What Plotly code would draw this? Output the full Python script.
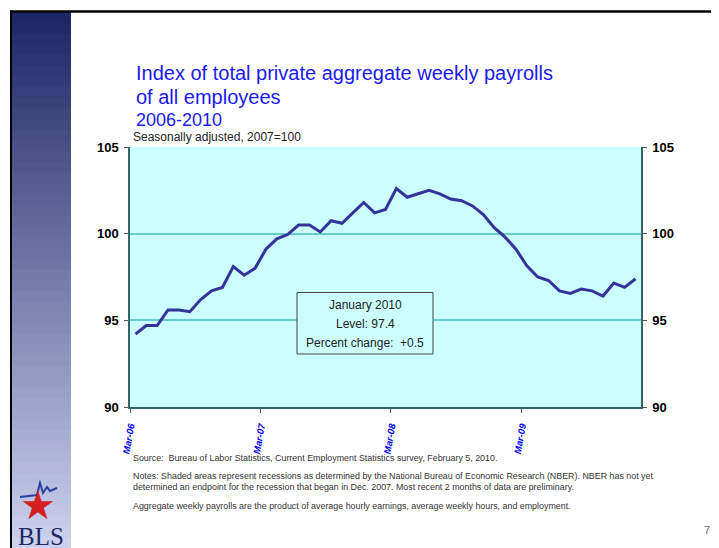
import pandas as pd
import plotly.graph_objects as go

# monthly index, 2007=100, seasonally adjusted (Mar 2006 - Jan 2010)
months = [d.strftime("%b-%y") for d in pd.date_range("2006-03-01", periods=47, freq="MS")]
payroll_index = [
    94.2, 94.7, 94.7, 95.6, 95.6, 95.5, 96.2, 96.7, 96.9, 98.1,
    97.6, 98.0, 99.1, 99.7, 99.95, 100.5, 100.5, 100.1, 100.75, 100.6, 101.2, 101.8,
    101.2, 101.4, 102.6, 102.1, 102.3, 102.5, 102.3, 102.0, 101.9, 101.6, 101.1, 100.35,
    99.8, 99.1, 98.15, 97.5, 97.3, 96.7, 96.55, 96.8, 96.7, 96.4, 97.15, 96.9,
    97.4,
]
y_ticks = [90, 95, 100, 105]

# page size and plot box in page pixels; the page body adds an 8px offset
W, H = 719, 548
OFF = 8
L, R, T, B = 130, 641, 147, 407


def px(x):
    return (x - L) / (R - L)


def py(y):
    return (B - y) / (B - T)


xs = list(range(len(months)))
tick_pos = [i - 0.5 for i in xs[::12]]
tick_txt = months[::12]

fig = go.Figure()
fig.add_trace(go.Scatter(
    x=xs, y=payroll_index, mode="lines",
    line=dict(color="#333399", width=3), showlegend=False, hoverinfo="skip",
))
fig.add_trace(go.Scatter(
    x=xs, y=payroll_index, mode="lines", yaxis="y2",
    line=dict(color="rgba(0,0,0,0)", width=0), showlegend=False, hoverinfo="skip",
))

shapes = []
# left gradient stripe
n = 50
top_c = (0x1e, 0x27, 0x66)
bot_c = (0xcc, 0xd1, 0xee)
for i in range(n):
    t = i / (n - 1)
    c = tuple(int(a + (b - a) * t) for a, b in zip(top_c, bot_c))
    y0 = 12 + (H - 12) * i / n
    y1 = 12 + (H - 12) * (i + 1) / n + 2
    shapes.append(dict(type="rect", xref="paper", yref="paper",
                       x0=px(12), x1=px(71), y0=py(y0), y1=py(y1),
                       fillcolor="rgb(%d,%d,%d)" % c, line=dict(width=0), layer="below"))
# black frame lines
shapes.append(dict(type="line", xref="paper", yref="paper", x0=px(10), x1=px(W + 5),
                   y0=py(11.5), y1=py(11.5), line=dict(color="black", width=2.5)))
shapes.append(dict(type="line", xref="paper", yref="paper", x0=px(11), x1=px(11),
                   y0=py(10.5), y1=py(H + 5), line=dict(color="black", width=2)))
# info box
shapes.append(dict(type="rect", xref="paper", yref="paper", x0=px(297), x1=px(433),
                   y0=py(292.5), y1=py(354), fillcolor="#ccffff",
                   line=dict(color="#444444", width=1)))
# BLS logo wave
shapes.append(dict(type="path", xref="paper", yref="paper",
                   path="M %f %f L %f %f L %f %f L %f %f L %f %f L %f %f L %f %f" % (
                       px(20), py(497), px(37), py(495), px(40), py(483), px(43), py(493),
                       px(47), py(487), px(50), py(491), px(57), py(488)),
                   line=dict(color="#2a3fa0", width=2)))

ann = []


def txt(x, y, s, size, color, family="Liberation Sans", xanchor="left", weight="normal"):
    ann.append(dict(x=px(x), y=py(y), xref="paper", yref="paper", text=s, showarrow=False,
                    xanchor=xanchor, yanchor="middle",
                    font=dict(size=size, color=color, family=family, weight=weight)))


txt(134, 73, "Index of total private aggregate weekly payrolls", 20, "#1a1aee")
txt(134, 97, "of all employees", 20, "#1a1aee")
txt(134, 120, "2006-2010", 18, "#1a1aee")
txt(131, 137, "Seasonally adjusted, 2007=100", 12, "#222222")

txt(365, 305, "January 2010", 12, "#222222", xanchor="center")
txt(365, 324, "Level: %.1f" % payroll_index[-1], 12, "#222222", xanchor="center")
txt(365, 343, "Percent change:  +%.1f" % round((payroll_index[-1] / payroll_index[-2] - 1) * 100, 1),
    12, "#222222", xanchor="center")

txt(131, 458, "Source:  Bureau of Labor Statistics, Current Employment Statistics survey, February 5, 2010.", 8.9, "#333333")
txt(131, 475.5, "Notes: Shaded areas represent recessions as determined by the National Bureau of Economic Research (NBER). NBER has not yet", 8.9, "#333333")
txt(131, 486.5, "determined an endpoint for the recession that began in Dec. 2007. Most recent 2 months of data are preliminary.", 8.9, "#333333")
txt(131, 506, "Aggregate weekly payrolls are the product of average hourly earnings, average weekly hours, and employment.", 8.9, "#333333")

txt(707, 530, "7", 11, "#5060a0", xanchor="center")
txt(38, 505, "\u2605", 40, "#d42020", xanchor="center")
txt(41, 536, "BLS", 25, "#1e2766", family="Liberation Serif", xanchor="center")

fig.update_layout(
    width=W - OFF, height=H - OFF,
    margin=dict(l=L - OFF, r=W - R, t=T - OFF, b=H - B, pad=0),
    paper_bgcolor="white",
    plot_bgcolor="#ccffff",
    shapes=shapes,
    annotations=ann,
    xaxis=dict(
        range=[-0.5, len(months) - 0.5],
        tickmode="array", tickvals=tick_pos, ticktext=tick_txt,
        tickangle=-80, ticks="outside", ticklen=4, tickcolor="#336666",
        ticklabelstandoff=4,
        tickfont=dict(family="Liberation Sans", size=9.5, color="#0000ee", weight="bold", style="italic"),
        showgrid=False, zeroline=False,
        showline=True, linecolor="#336666", linewidth=1.5,
    ),
    yaxis=dict(
        range=[90, 105], tickvals=y_ticks,
        ticks="outside", ticklen=4, tickcolor="#555555",
        ticklabelstandoff=3,
        tickfont=dict(family="Liberation Sans", size=13, color="black", weight="bold"),
        showgrid=True, gridcolor="#66cccc", gridwidth=1.5, zeroline=False,
        showline=True, linecolor="#336666", linewidth=1.5,
    ),
    yaxis2=dict(
        range=[90, 105], tickvals=y_ticks, overlaying="y", side="right",
        ticks="outside", ticklen=4, tickcolor="#555555",
        ticklabelstandoff=3,
        tickfont=dict(family="Liberation Sans", size=13, color="black", weight="bold"),
        showgrid=False, zeroline=False,
        showline=True, linecolor="#336666", linewidth=1.5,
    ),
)

fig.write_html("out.html")
